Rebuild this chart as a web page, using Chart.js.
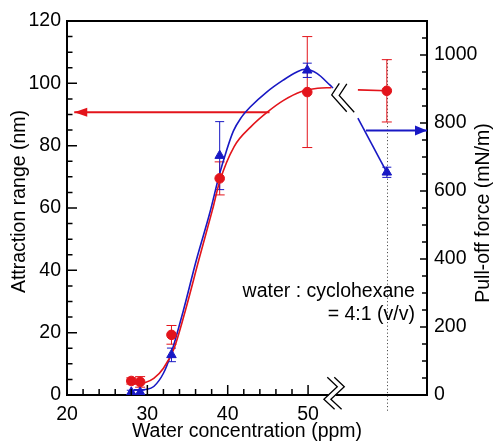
<!DOCTYPE html>
<html>
<head>
<meta charset="utf-8">
<script src="https://cdn.jsdelivr.net/npm/chart.js@4.4.1/dist/chart.umd.min.js"></script>
<style>
  html, body { margin: 0; padding: 0; background: #fff; }
</style>
</head>
<body>
<canvas id="chart" width="494" height="441"></canvas>
<script>
// measured points, both series share the same concentrations
const concentration = [28.0, 29.1, 33.0, 39.0, 49.9, 59.8];
const attractionRange = [4.5, 4.2, 19.3, 69.5, 97.2, 97.6];
const attractionErr = [1.0, 1.7, 3.0, 5.3, 17.8, 10.0];
const pullOffForce = [8, 8, 118, 704, 955, 655];
const pullOffErr = [6, 6, 20, 100, 21, 15];

// guide curves
const redFitX = [28.3, 29.75, 30.8, 32.0, 33.3, 34.75, 36.4, 38.1, 39.0, 40.8, 42.9, 45.0, 47.0, 49.1, 51.2, 52.9];
const redFitY = [3.6, 4.0, 5.3, 8.6, 14.8, 27.3, 43.3, 59.4, 68.5, 79.7, 86.1, 90.9, 94.6, 97.3, 98.4, 98.6];
const blueFitX = [28.3, 30.0, 30.8, 32.0, 32.9, 34.5, 36.1, 37.8, 38.95, 39.8, 40.7, 41.65, 42.8, 44.85, 46.9, 48.6, 49.6, 51.1, 52.7, 53.1];
const blueFitY = [15, 17, 25, 64, 118, 250, 397, 538, 647, 715, 776, 815, 847, 891, 926, 950, 958, 946, 912, 903];
const redTailX = [56.2, 59.8];
const redTailY = [97.9, 97.6];
const blueTailX = [56.2, 59.8];
const blueTailY = [814, 655];

// arrows pointing at each series' axis
const redArrowX = [45.2, 20.9];
const redArrowY = 90.7;
const blueArrowX = [57.2, 64.8];
const blueArrowY = 778;

// axis ticks
const xTicks = [20, 30, 40, 50];
const yTicks = [0, 20, 40, 60, 80, 100, 120];
const y2Ticks = [0, 200, 400, 600, 800, 1000];

const RED = "#e3141b";
const BLUE = "#1818c4";
const FONT = "'Liberation Sans', Arial, Helvetica, sans-serif";

const pts = (xs, ys) => xs.map((x, i) => ({ x, y: ys[i] }));
const setTicks = (vals) => (s) => { s.ticks = vals.map((v) => ({ value: v })); };

const drawBars = (ctx, xs, vals, errs, xScale, yScale, color, cap) => {
  ctx.save();
  ctx.strokeStyle = color;
  ctx.lineWidth = 1;
  vals.forEach((v, i) => {
    const px = xScale.getPixelForValue(xs[i]);
    const top = yScale.getPixelForValue(v + errs[i]);
    const bot = yScale.getPixelForValue(v - errs[i]);
    ctx.beginPath();
    ctx.moveTo(px, top); ctx.lineTo(px, bot);
    ctx.moveTo(px - cap, top); ctx.lineTo(px + cap, top);
    ctx.moveTo(px - cap, bot); ctx.lineTo(px + cap, bot);
    ctx.stroke();
  });
  ctx.restore();
};

const polyline = (ctx, cx, cy, offs) => {
  ctx.beginPath();
  offs.forEach(([dx, dy], i) => (i ? ctx.lineTo(cx + dx, cy + dy) : ctx.moveTo(cx + dx, cy + dy)));
  ctx.stroke();
};

const decor = {
  id: "decor",
  beforeDatasetsDraw(chart) {
    const { ctx, chartArea, scales: { x, y, y2 } } = chart;
    // dotted guide at the last concentration
    const last = concentration.length - 1;
    const gx = Math.round(x.getPixelForValue(concentration[last])) + 0.5;
    ctx.save();
    ctx.strokeStyle = "#333";
    ctx.lineWidth = 1;
    ctx.setLineDash([1, 2.5]);
    ctx.beginPath();
    ctx.moveTo(gx, y.getPixelForValue(attractionRange[last] + attractionErr[last]));
    ctx.lineTo(gx, chartArea.bottom + 17);
    ctx.stroke();
    ctx.restore();

    drawBars(ctx, concentration, attractionRange, attractionErr, x, y, RED, 5);
    drawBars(ctx, concentration, pullOffForce, pullOffErr, x, y2, BLUE, 4.5);
  },
  afterDatasetsDraw(chart) {
    const { ctx, scales: { x, y, y2 } } = chart;
    // arrow heads
    ctx.save();
    let tx = x.getPixelForValue(redArrowX[1]), ty = y.getPixelForValue(redArrowY);
    ctx.fillStyle = RED;
    ctx.beginPath();
    ctx.moveTo(tx, ty); ctx.lineTo(tx + 13, ty - 4.5); ctx.lineTo(tx + 13, ty + 4.5);
    ctx.closePath(); ctx.fill();
    tx = x.getPixelForValue(blueArrowX[1]); ty = y2.getPixelForValue(blueArrowY);
    ctx.fillStyle = BLUE;
    ctx.beginPath();
    ctx.moveTo(tx, ty); ctx.lineTo(tx - 12, ty - 5); ctx.lineTo(tx - 12, ty + 5);
    ctx.closePath(); ctx.fill();
    ctx.restore();
  },
  afterDraw(chart) {
    const { ctx, chartArea: a, scales: { x, y, y2 } } = chart;
    ctx.save();
    ctx.strokeStyle = "#000";
    ctx.lineWidth = 2;
    ctx.beginPath();
    ctx.moveTo(a.left - 1, a.top); ctx.lineTo(a.right + 1, a.top);
    ctx.stroke();

    // inward tick marks
    ctx.lineWidth = 1.5;
    ctx.beginPath();
    for (let v = 5; v < 120; v += 5) {
      const py = y.getPixelForValue(v);
      ctx.moveTo(a.left, py); ctx.lineTo(a.left + (v % 20 === 0 ? 10 : 5.5), py);
    }
    for (let v = 50; v < 1100; v += 50) {
      const py = y2.getPixelForValue(v);
      ctx.moveTo(a.right, py); ctx.lineTo(a.right - (v % 200 === 0 ? 7 : 5), py);
    }
    for (let v = 22; v <= 50; v += 2) {
      const px = x.getPixelForValue(v);
      ctx.moveTo(px, a.bottom); ctx.lineTo(px, a.bottom - (v % 10 === 0 ? 10 : 6));
    }
    ctx.stroke();

    // axis break on the x axis
    const bx = x.getPixelForValue(53.3), by = a.bottom;
    ctx.fillStyle = "#fff";
    ctx.fillRect(bx - 6, by - 2, 7, 4);
    ctx.lineWidth = 1.3;
    const s1 = [[-7.3, -17.7], [2.7, -8.3], [-10.7, 4.3], [0, 14.3]];
    polyline(ctx, bx, by, s1);
    polyline(ctx, bx + 7, by, s1);

    // break in the curves
    const cx = x.getPixelForValue(54.3), cy = y.getPixelForValue(95);
    const s2 = [[-3.3, -15.6], [-10.9, -3.9], [4.1, 12.8]];
    polyline(ctx, cx, cy, s2);
    polyline(ctx, cx + 7.5, cy + 0.5, s2);

    // axis titles, both read bottom to top
    ctx.fillStyle = "#000";
    ctx.font = "19.5px " + FONT;
    ctx.textAlign = "center";
    ctx.textBaseline = "middle";
    ctx.save();
    ctx.translate(19.2, 201.5);
    ctx.rotate(-Math.PI / 2);
    ctx.fillText("Attraction range (nm)", 0, 0);
    ctx.restore();
    ctx.save();
    ctx.translate(483.3, 213);
    ctx.rotate(-Math.PI / 2);
    ctx.fillText("Pull-off force (mN/m)", 0, 0);
    ctx.restore();

    // sample note
    ctx.textAlign = "right";
    const nx = x.getPixelForValue(63.3);
    ctx.fillText("water : cyclohexane", nx, y.getPixelForValue(33.1));
    ctx.fillText("= 4:1 (v/v)", nx, y.getPixelForValue(25.7));
    ctx.restore();
  },
};

const tickFont = { size: 19.5, family: FONT };
const tickLabel = (v) => String(v);
const axisBorder = { display: true, color: "#000", width: 2 };
const noGrid = { drawOnChartArea: false, drawTicks: false };

new Chart(document.getElementById("chart"), {
  type: "scatter",
  data: {
    datasets: [
      {
        data: pts(concentration, attractionRange),
        yAxisID: "y",
        pointStyle: "circle",
        pointRadius: 4.8,
        backgroundColor: RED,
        borderColor: RED,
        borderWidth: 1,
      },
      {
        data: pts(concentration, pullOffForce),
        yAxisID: "y2",
        pointStyle: "triangle",
        pointRadius: 5.5,
        backgroundColor: BLUE,
        borderColor: BLUE,
        borderWidth: 1,
      },
      {
        data: pts(redFitX, redFitY),
        yAxisID: "y",
        showLine: true,
        pointRadius: 0,
        borderColor: RED,
        borderWidth: 1.6,
        cubicInterpolationMode: "monotone",
      },
      {
        data: pts(blueFitX, blueFitY),
        yAxisID: "y2",
        showLine: true,
        pointRadius: 0,
        borderColor: BLUE,
        borderWidth: 1.6,
        cubicInterpolationMode: "monotone",
      },
      {
        data: pts(redTailX, redTailY),
        yAxisID: "y",
        showLine: true,
        pointRadius: 0,
        borderColor: RED,
        borderWidth: 1.6,
      },
      {
        data: pts(blueTailX, blueTailY),
        yAxisID: "y2",
        showLine: true,
        pointRadius: 0,
        borderColor: BLUE,
        borderWidth: 1.6,
      },
      {
        data: pts(redArrowX, [redArrowY, redArrowY]),
        yAxisID: "y",
        showLine: true,
        pointRadius: 0,
        borderColor: RED,
        borderWidth: 2,
      },
      {
        data: pts(blueArrowX, [blueArrowY, blueArrowY]),
        yAxisID: "y2",
        showLine: true,
        pointRadius: 0,
        borderColor: BLUE,
        borderWidth: 2,
      },
    ],
  },
  options: {
    responsive: false,
    animation: false,
    layout: { padding: { top: 21, left: 0, right: 0, bottom: 0 } },
    plugins: {
      legend: { display: false },
      tooltip: { enabled: false },
    },
    scales: {
      x: {
        type: "linear",
        min: 20,
        max: 64.8,
        afterBuildTicks: setTicks(xTicks),
        afterFit: (s) => { s.height = 46; },
        grid: noGrid,
        border: axisBorder,
        ticks: { color: "#000", font: tickFont, padding: 8, maxRotation: 0, autoSkip: false, callback: tickLabel },
        title: {
          display: true,
          text: "Water concentration (ppm)",
          color: "#000",
          font: { size: 19.5, family: FONT, lineHeight: 1 },
          padding: { top: 0, bottom: 0 },
        },
      },
      y: {
        position: "left",
        min: 0,
        max: 120,
        afterBuildTicks: setTicks(yTicks),
        afterFit: (s) => { s.width = 67; },
        grid: noGrid,
        border: axisBorder,
        ticks: { color: "#000", font: tickFont, padding: 6, callback: tickLabel },
      },
      y2: {
        position: "right",
        min: 0,
        max: 1100,
        afterBuildTicks: setTicks(y2Ticks),
        afterFit: (s) => { s.width = 67; },
        grid: noGrid,
        border: axisBorder,
        ticks: { color: "#000", font: tickFont, padding: 7, callback: tickLabel },
      },
    },
  },
  plugins: [decor],
});
</script>
</body>
</html>
